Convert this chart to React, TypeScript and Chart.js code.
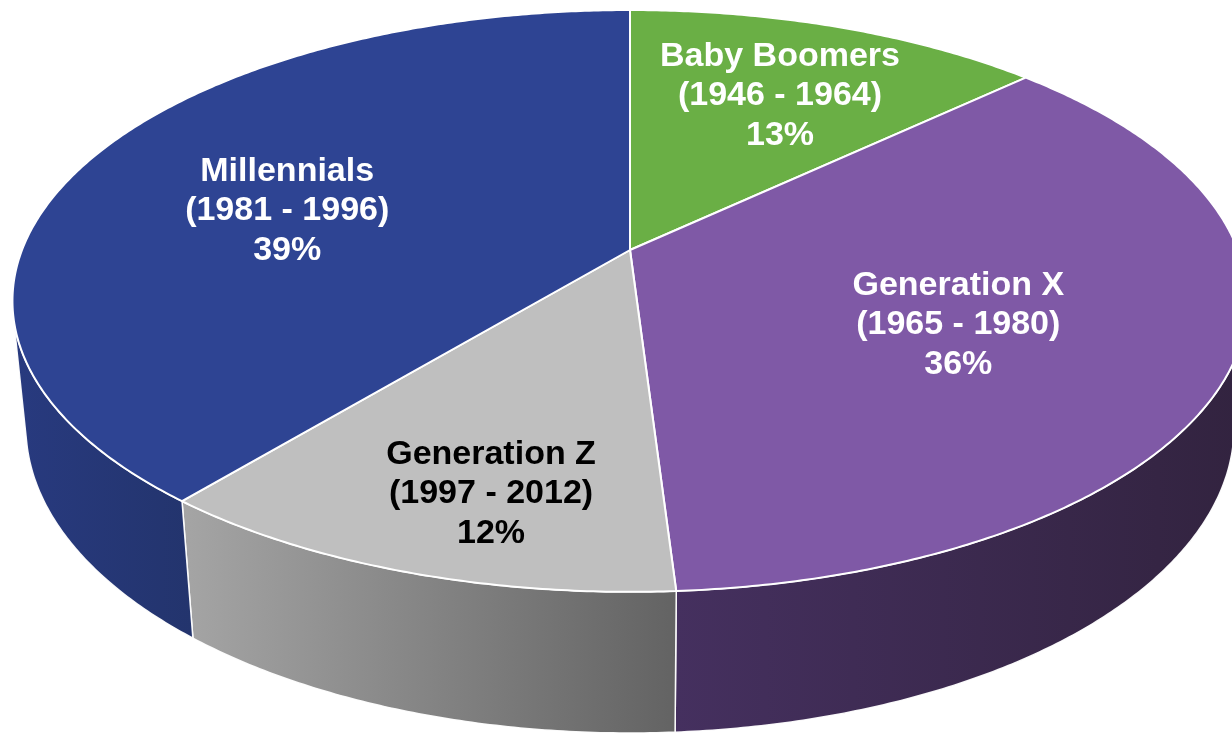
import React, { useEffect, useRef } from 'react';
import { Chart, registerables } from 'chart.js';

Chart.register(...registerables);

// ---- data ----
const GENERATIONS = ['Baby Boomers', 'Generation X', 'Generation Z', 'Millennials'];
const BIRTH_YEARS = ['(1946 - 1964)', '(1965 - 1980)', '(1997 - 2012)', '(1981 - 1996)'];
const SHARES = [13, 36, 12, 39];

// ---- styles ----
const TOP_COLORS = ['#6AAF45', '#7F59A6', '#BFBFBF', '#2E4493'];
const SIDE_COLORS = [
  ['#4F8434', '#3F6A29'],
  ['#45305F', '#32233F'],
  ['#A5A5A5', '#636363'],
  ['#283A7F', '#23346D'],
];
const TEXT_COLORS = ['#FFFFFF', '#FFFFFF', '#000000', '#FFFFFF'];
const LABEL_RADIUS = [0.663, 0.575, 0.777, 0.595];
const LABEL_TURN_DEG = [0.9, 4.6, -3.2, -6];

// ---- 3D view ----
const SIN_T = 0.4638;
const COS_T = 0.886;
const CAM = 5.06;
const DEPTH = 0.2355;
const ZOOM = 2.432;

function project(cx: number, cy: number, A: number, theta: number, r: number, z: number) {
  const u = r * Math.sin(theta);
  const v = r * Math.cos(theta);
  const d = CAM + v * COS_T - z * SIN_T;
  const up = v * SIN_T + z * COS_T;
  return [cx + (A * CAM * u) / d, cy - (A * CAM * up) / d];
}

const pie3d = {
  id: 'pie3d',
  beforeDatasetsDraw(chart: any) {
    const meta = chart.getDatasetMeta(0);
    const arcs = meta.data;
    if (!arcs.length) return false;
    const ctx: CanvasRenderingContext2D = chart.ctx;
    const cx = arcs[0].x;
    const cy = arcs[0].y;
    const A = arcs[0].outerRadius * ZOOM;
    const thMin = Math.acos(-1 / (CAM * COS_T));
    const thMax = 2 * Math.PI - thMin;
    const step = Math.PI / 360;

    ctx.save();
    ctx.lineJoin = 'round';

    // sides
    arcs.forEach((arc: any, i: number) => {
      let s = arc.startAngle + Math.PI / 2;
      let e = arc.endAngle + Math.PI / 2;
      s = Math.max(s, thMin);
      e = Math.min(e, thMax);
      if (e <= s) return;
      const pts: number[][] = [];
      const n = Math.max(2, Math.ceil((e - s) / step));
      for (let k = 0; k <= n; k++) pts.push(project(cx, cy, A, s + ((e - s) * k) / n, 1, 0));
      for (let k = n; k >= 0; k--) pts.push(project(cx, cy, A, s + ((e - s) * k) / n, 1, -DEPTH));
      let minX = Infinity, maxX = -Infinity;
      pts.forEach((p) => { minX = Math.min(minX, p[0]); maxX = Math.max(maxX, p[0]); });
      const g = ctx.createLinearGradient(minX, 0, maxX, 0);
      g.addColorStop(0, SIDE_COLORS[i][0]);
      g.addColorStop(1, SIDE_COLORS[i][1]);
      ctx.beginPath();
      pts.forEach((p, k) => (k ? ctx.lineTo(p[0], p[1]) : ctx.moveTo(p[0], p[1])));
      ctx.closePath();
      ctx.fillStyle = g;
      ctx.fill();
      ctx.strokeStyle = 'rgba(255,255,255,0.95)';
      ctx.lineWidth = 1.5;
      ctx.stroke();
    });

    // top face
    arcs.forEach((arc: any, i: number) => {
      const s = arc.startAngle + Math.PI / 2;
      const e = arc.endAngle + Math.PI / 2;
      const n = Math.max(2, Math.ceil((e - s) / step));
      ctx.beginPath();
      ctx.moveTo(cx, cy);
      for (let k = 0; k <= n; k++) {
        const p = project(cx, cy, A, s + ((e - s) * k) / n, 1, 0);
        ctx.lineTo(p[0], p[1]);
      }
      ctx.closePath();
      ctx.fillStyle = arc.options.backgroundColor;
      ctx.fill();
      ctx.strokeStyle = '#FFFFFF';
      ctx.lineWidth = 2;
      ctx.stroke();
    });

    // labels
    ctx.font = 'bold 34px "Liberation Sans", Arial, sans-serif';
    ctx.textAlign = 'center';
    ctx.textBaseline = 'middle';
    arcs.forEach((arc: any, i: number) => {
      const mid = (arc.startAngle + arc.endAngle) / 2 + Math.PI / 2 + (LABEL_TURN_DEG[i] * Math.PI) / 180;
      const p = project(cx, cy, A, mid, LABEL_RADIUS[i], 0);
      const lines = [chart.data.labels[i], BIRTH_YEARS[i], chart.data.datasets[0].data[i] + '%'];
      ctx.fillStyle = TEXT_COLORS[i];
      lines.forEach((t: string, k: number) => ctx.fillText(t, p[0], p[1] + (k - 1) * 39.5));
    });

    ctx.restore();
    return false;
  },
};

export default function App() {
  const ref = useRef<HTMLCanvasElement>(null);
  useEffect(() => {
    document.body.style.margin = '0';
    const chart = new Chart(ref.current as HTMLCanvasElement, {
      type: 'pie',
      data: {
        labels: GENERATIONS,
        datasets: [
          {
            data: SHARES,
            backgroundColor: TOP_COLORS,
            borderWidth: 0,
          },
        ],
      },
      options: {
        animation: false,
        responsive: false,
        maintainAspectRatio: false,
        devicePixelRatio: 1,
        layout: { padding: { left: 28, right: 0, top: 0, bottom: 233 } },
        plugins: { legend: { display: false }, tooltip: { enabled: false } },
      },
      plugins: [pie3d],
    });
    return () => chart.destroy();
  }, []);
  return (
    <div style={{ position: 'absolute', left: 0, top: 0, width: 1232, height: 733, background: '#fff' }}>
      <canvas ref={ref} width={1232} height={733} />
    </div>
  );
}
